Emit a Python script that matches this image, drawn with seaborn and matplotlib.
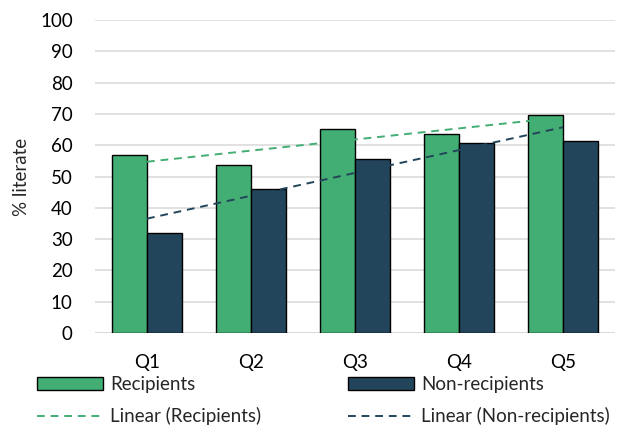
import numpy as np
import pandas as pd
import matplotlib
matplotlib.use("Agg")
import matplotlib.pyplot as plt
import seaborn as sns
from matplotlib.patches import Patch
from matplotlib.lines import Line2D

# values
quintiles = ["Q1", "Q2", "Q3", "Q4", "Q5"]
recipients = [56.8, 53.8, 65.3, 63.5, 69.7]
non_recipients = [32.1, 46.0, 55.7, 60.6, 61.3]

green = "#43AE73"
navy = "#22455B"
fs = 13.5

df = pd.DataFrame({
    "Quintile": quintiles * 2,
    "Group": ["Recipients"] * 5 + ["Non-recipients"] * 5,
    "Value": recipients + non_recipients,
})

sns.set_style("white")
plt.rcParams["font.family"] = ["Lato", "DejaVu Sans"]

W, H = 632, 432
fig = plt.figure(figsize=(W / 100, H / 100), dpi=100)
ax = fig.add_axes([95 / W, (H - 333) / H, 520 / W, 313 / H])

sns.barplot(data=df, x="Quintile", y="Value", hue="Group",
            palette=[green, navy], saturation=1, width=0.668, gap=0,
            edgecolor="black", linewidth=1.0, ax=ax, legend=False, zorder=3)

# linear trendlines (least squares over x = 1..5)
xs = np.arange(len(quintiles))
dash = (0, (4, 3))
for vals, col in [(recipients, green), (non_recipients, navy)]:
    m, b = np.polyfit(xs + 1, vals, 1)
    ax.plot(xs, m * (xs + 1) + b, ls=dash, color=col, lw=1.4, zorder=4)

ax.set_ylim(0, 100)
ax.set_xlim(-0.5, 4.5)
ax.set_yticks(range(0, 101, 10))
ax.yaxis.grid(True, color="#D9D9D9", lw=1.1, zorder=0)
ax.set_axisbelow(True)
for s in ax.spines.values():
    s.set_visible(False)
ax.axhline(0, color="#D9D9D9", lw=1.3, zorder=1)
ax.tick_params(axis="both", length=0, labelsize=fs, colors="black")
ax.tick_params(axis="x", pad=15)
ax.tick_params(axis="y", pad=16)
ax.set_xlabel("")
ax.set_ylabel("% literate", fontsize=fs, labelpad=7)

# legend: two columns placed separately
col1 = [Patch(facecolor=green, edgecolor="black", lw=1.0),
        Line2D([], [], color=green, ls=dash, lw=1.4)]
col2 = [Patch(facecolor=navy, edgecolor="black", lw=1.0),
        Line2D([], [], color=navy, ls=dash, lw=1.4)]
kw = dict(loc="upper left", frameon=False, fontsize=fs, borderpad=0,
          borderaxespad=0, handlelength=3.5, handleheight=0.65,
          handletextpad=0.4, labelspacing=0.75)
fig.legend(col1, ["Recipients", "Linear (Recipients)"],
           bbox_to_anchor=(37 / W, (H - 376) / H), **kw)
fig.legend(col2, ["Non-recipients", "Linear (Non-recipients)"],
           bbox_to_anchor=(348 / W, (H - 376) / H), **kw)

fig.savefig("out.png", dpi=100)
